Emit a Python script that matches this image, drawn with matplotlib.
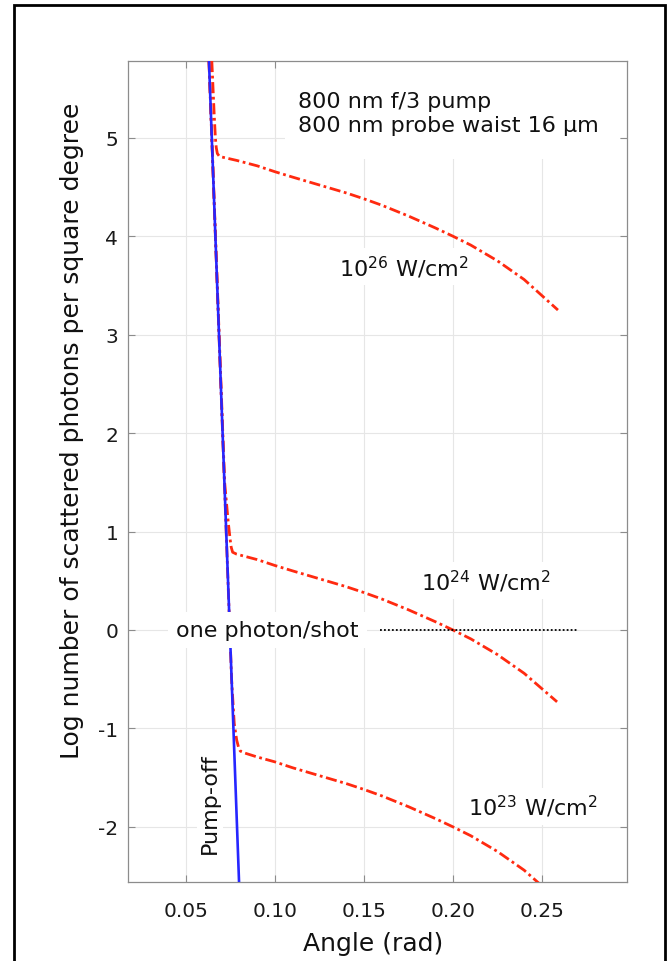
import matplotlib.pyplot as plt
from matplotlib.patches import Rectangle

plt.rcParams['font.family'] = ['DejaVu Sans']
plt.rcParams['axes.unicode_minus'] = False

# pump-off signal (blue)
pump_off_angle = [0.0629, 0.0798]
pump_off_log = [5.78, -2.56]

# pump on, three intensities (red dash-dot)
i26_angle = [0.0645, 0.0658, 0.0665, 0.0670, 0.0676, 0.0688, 0.0785, 0.090, 0.100, 0.110, 0.125,
             0.140, 0.150, 0.160, 0.175, 0.190, 0.200, 0.210, 0.225, 0.240, 0.259]
i26_log = [5.78, 5.25, 5.00, 4.90, 4.84, 4.81, 4.77, 4.715, 4.655, 4.60, 4.52,
           4.44, 4.38, 4.315, 4.205, 4.085, 4.00, 3.91, 3.75, 3.56, 3.25]

i24_angle = [0.0629, 0.0717, 0.0737, 0.0748, 0.0754, 0.0762, 0.0785, 0.090, 0.100, 0.110, 0.125,
             0.140, 0.150, 0.160, 0.175, 0.190, 0.200, 0.210, 0.225, 0.240, 0.2585]
i24_log = [5.78, 1.50, 1.10, 0.92, 0.84, 0.79, 0.77, 0.715, 0.655, 0.60, 0.52,
           0.44, 0.38, 0.315, 0.205, 0.085, 0.0, -0.09, -0.25, -0.44, -0.73]

i23_angle = [0.0629, 0.0756, 0.0771, 0.0785, 0.0795, 0.0805, 0.0830, 0.090, 0.100, 0.110, 0.125,
             0.140, 0.150, 0.160, 0.175, 0.190, 0.200, 0.210, 0.225, 0.240, 0.250]
i23_log = [5.78, -0.50, -0.95, -1.12, -1.19, -1.23, -1.25, -1.29, -1.34, -1.40, -1.48,
           -1.56, -1.62, -1.685, -1.795, -1.915, -2.00, -2.09, -2.25, -2.44, -2.60]

# one photon per shot threshold
thresh_angle = [0.159, 0.270]
thresh_log = [0.0, 0.0]

xticks = [0.05, 0.10, 0.15, 0.20, 0.25]
xticklabels = ['0.05', '0.10', '0.15', '0.20', '0.25']
yticks = [-2, -1, 0, 1, 2, 3, 4, 5]

RED = '#ff2a10'
BLUE = '#2626ff'
GRAY = '#8c8c8c'

fig = plt.figure(figsize=(6.7, 9.62), dpi=100)
ax = fig.add_axes([128 / 670, 79 / 962, 499 / 670, 821 / 962])

dashdot = (0, (4, 1.3, 1, 1.3))
for a, v in [(i26_angle, i26_log), (i24_angle, i24_log), (i23_angle, i23_log)]:
    ax.plot(a, v, color=RED, lw=2.0, linestyle=dashdot, zorder=3)
ax.plot(pump_off_angle, pump_off_log, color=BLUE, lw=1.9, zorder=4)
ax.plot(thresh_angle, thresh_log, color='black', lw=1.3, linestyle=(0, (1, 1.2)), zorder=3)

ax.set_xlim(0.0174, 0.2978)
ax.set_ylim(-2.56, 5.78)
ax.set_xticks(xticks)
ax.set_xticklabels(xticklabels)
ax.set_yticks(yticks)
ax.grid(True, color='#e6e6e6', lw=0.8, zorder=0)
ax.set_axisbelow(True)
for s in ax.spines.values():
    s.set_color(GRAY)
    s.set_linewidth(0.9)
ax.tick_params(direction='in', top=True, right=True, length=5, width=0.8,
               color=GRAY, labelsize=14.5, labelcolor='#1a1a1a')
ax.tick_params(axis='x', pad=14)
ax.tick_params(axis='y', pad=7)

# white box behind the top annotation
ax.add_patch(Rectangle((0.3146, 0.8806), 0.672, 0.1194, transform=ax.transAxes,
                       facecolor='white', edgecolor='none', zorder=1))
ax.text(0.1129, 5.254, '800 nm f/3 pump\n800 nm probe waist 16 μm', fontsize=16,
        ha='left', va='center', linespacing=1.25, color='#111111', zorder=5)

box = dict(facecolor='white', edgecolor='none', pad=4)
ax.text(0.1725, 3.69, r'10$^{26}$ W/cm$^{2}$', fontsize=16, ha='center', va='center',
        color='#111111', bbox=box, zorder=2)
ax.text(0.2183, 0.50, r'10$^{24}$ W/cm$^{2}$', fontsize=16, ha='center', va='center',
        color='#111111', bbox=box, zorder=2)
ax.text(0.2447, -1.79, r'10$^{23}$ W/cm$^{2}$', fontsize=16, ha='center', va='center',
        color='#111111', bbox=box, zorder=2)
ax.text(0.0958, 0.0, 'one photon/shot', fontsize=16, ha='center', va='center',
        color='#111111', bbox=dict(facecolor='white', edgecolor='none', pad=6), zorder=5)
ax.text(0.0635, -1.75, 'Pump-off', fontsize=16, rotation=90, ha='center', va='center',
        color='#111111', bbox=dict(facecolor='white', edgecolor='none', pad=2), zorder=2)

fig.text(72 / 670, 1 - 431 / 962, 'Log number of scattered photons per square degree',
         fontsize=18, rotation=90, ha='center', va='center', color='#111111')
fig.text(373 / 670, 1 - 944 / 962, 'Angle (rad)', fontsize=18, ha='center', va='center',
         color='#111111')

# page frame
fig.patches.append(Rectangle((14 / 670, -0.01), 651 / 670, 1.01 - 6 / 962,
                             transform=fig.transFigure, fill=False, lw=2.0,
                             edgecolor='black'))

fig.savefig('out.png', dpi=100)
